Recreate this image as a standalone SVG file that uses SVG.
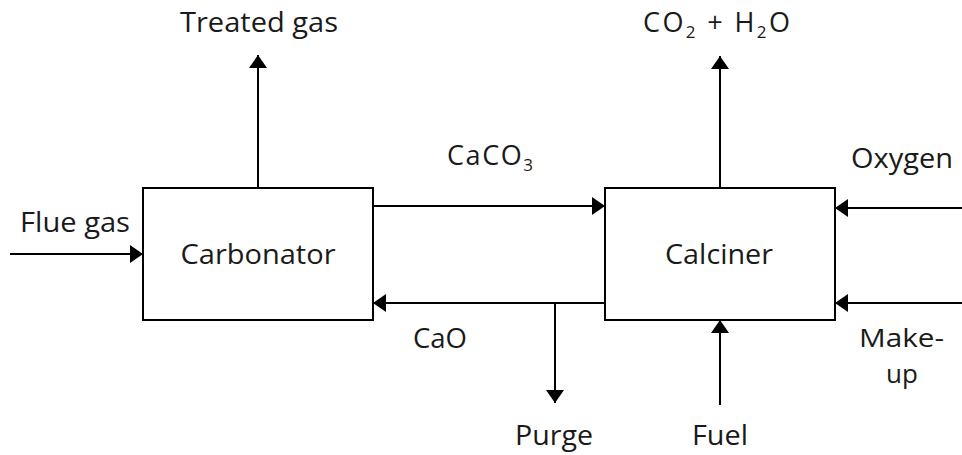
<svg xmlns="http://www.w3.org/2000/svg" width="962" height="455" viewBox="0 0 962 455">
<style>
.box{fill:#fff;stroke:#000;stroke-width:2}
.ln{fill:none;stroke:#000;stroke-width:2;marker-end:url(#ah)}
text{font-family:"Open Sans","Liberation Sans",sans-serif;font-size:27px;fill:#1a1a1a}
.sub{font-size:17px}
.mk{font-size:26px}
</style>
<defs>
<marker id="ah" markerUnits="userSpaceOnUse" markerWidth="14" markerHeight="18" viewBox="0 0 14 18" refX="13" refY="9" orient="auto">
<path d="M0,0 L13,9 L0,18 Z" fill="#000"/>
</marker>
</defs>
<g id="connectors">
<line class="ln" x1="10" y1="254" x2="143" y2="254"/>
<line class="ln" x1="258" y1="188" x2="258" y2="55"/>
<line class="ln" x1="720" y1="188" x2="720" y2="56"/>
<line class="ln" x1="373" y1="206" x2="605" y2="206"/>
<line class="ln" x1="605" y1="303" x2="373" y2="303"/>
<line class="ln" x1="555" y1="303" x2="555" y2="403"/>
<line class="ln" x1="720" y1="405" x2="720" y2="320"/>
<line class="ln" x1="962" y1="208" x2="835" y2="208"/>
<line class="ln" x1="962" y1="303" x2="835" y2="303"/>
</g>
<g id="carbonator">
<rect class="box" x="143" y="188" width="230" height="132"/>
<text x="258" y="264" text-anchor="middle" textLength="155" lengthAdjust="spacingAndGlyphs">Carbonator</text>
</g>
<g id="calciner">
<rect class="box" x="605" y="188" width="230" height="132"/>
<text x="719" y="264" text-anchor="middle" textLength="108" lengthAdjust="spacingAndGlyphs">Calciner</text>
</g>
<g id="labels">
<text x="20" y="232" textLength="110" lengthAdjust="spacingAndGlyphs">Flue gas</text>
<text x="180" y="32" textLength="158" lengthAdjust="spacingAndGlyphs">Treated gas</text>
<text x="643" y="32" textLength="147">CO<tspan class="sub" dy="6">2</tspan><tspan dy="-6"> + H</tspan><tspan class="sub" dy="6">2</tspan><tspan dy="-6">O</tspan></text>
<text x="447" y="165" textLength="86">CaCO<tspan class="sub" dy="6">3</tspan></text>
<text x="851" y="168" textLength="102" lengthAdjust="spacingAndGlyphs">Oxygen</text>
<text x="413" y="348" textLength="54" lengthAdjust="spacingAndGlyphs">CaO</text>
<text class="mk" x="859" y="347" textLength="85" lengthAdjust="spacingAndGlyphs">Make-</text>
<text class="mk" x="902" y="383" text-anchor="middle">up</text>
<text x="515" y="445" textLength="78" lengthAdjust="spacingAndGlyphs">Purge</text>
<text x="692" y="445" textLength="56" lengthAdjust="spacingAndGlyphs">Fuel</text>
</g>
</svg>
